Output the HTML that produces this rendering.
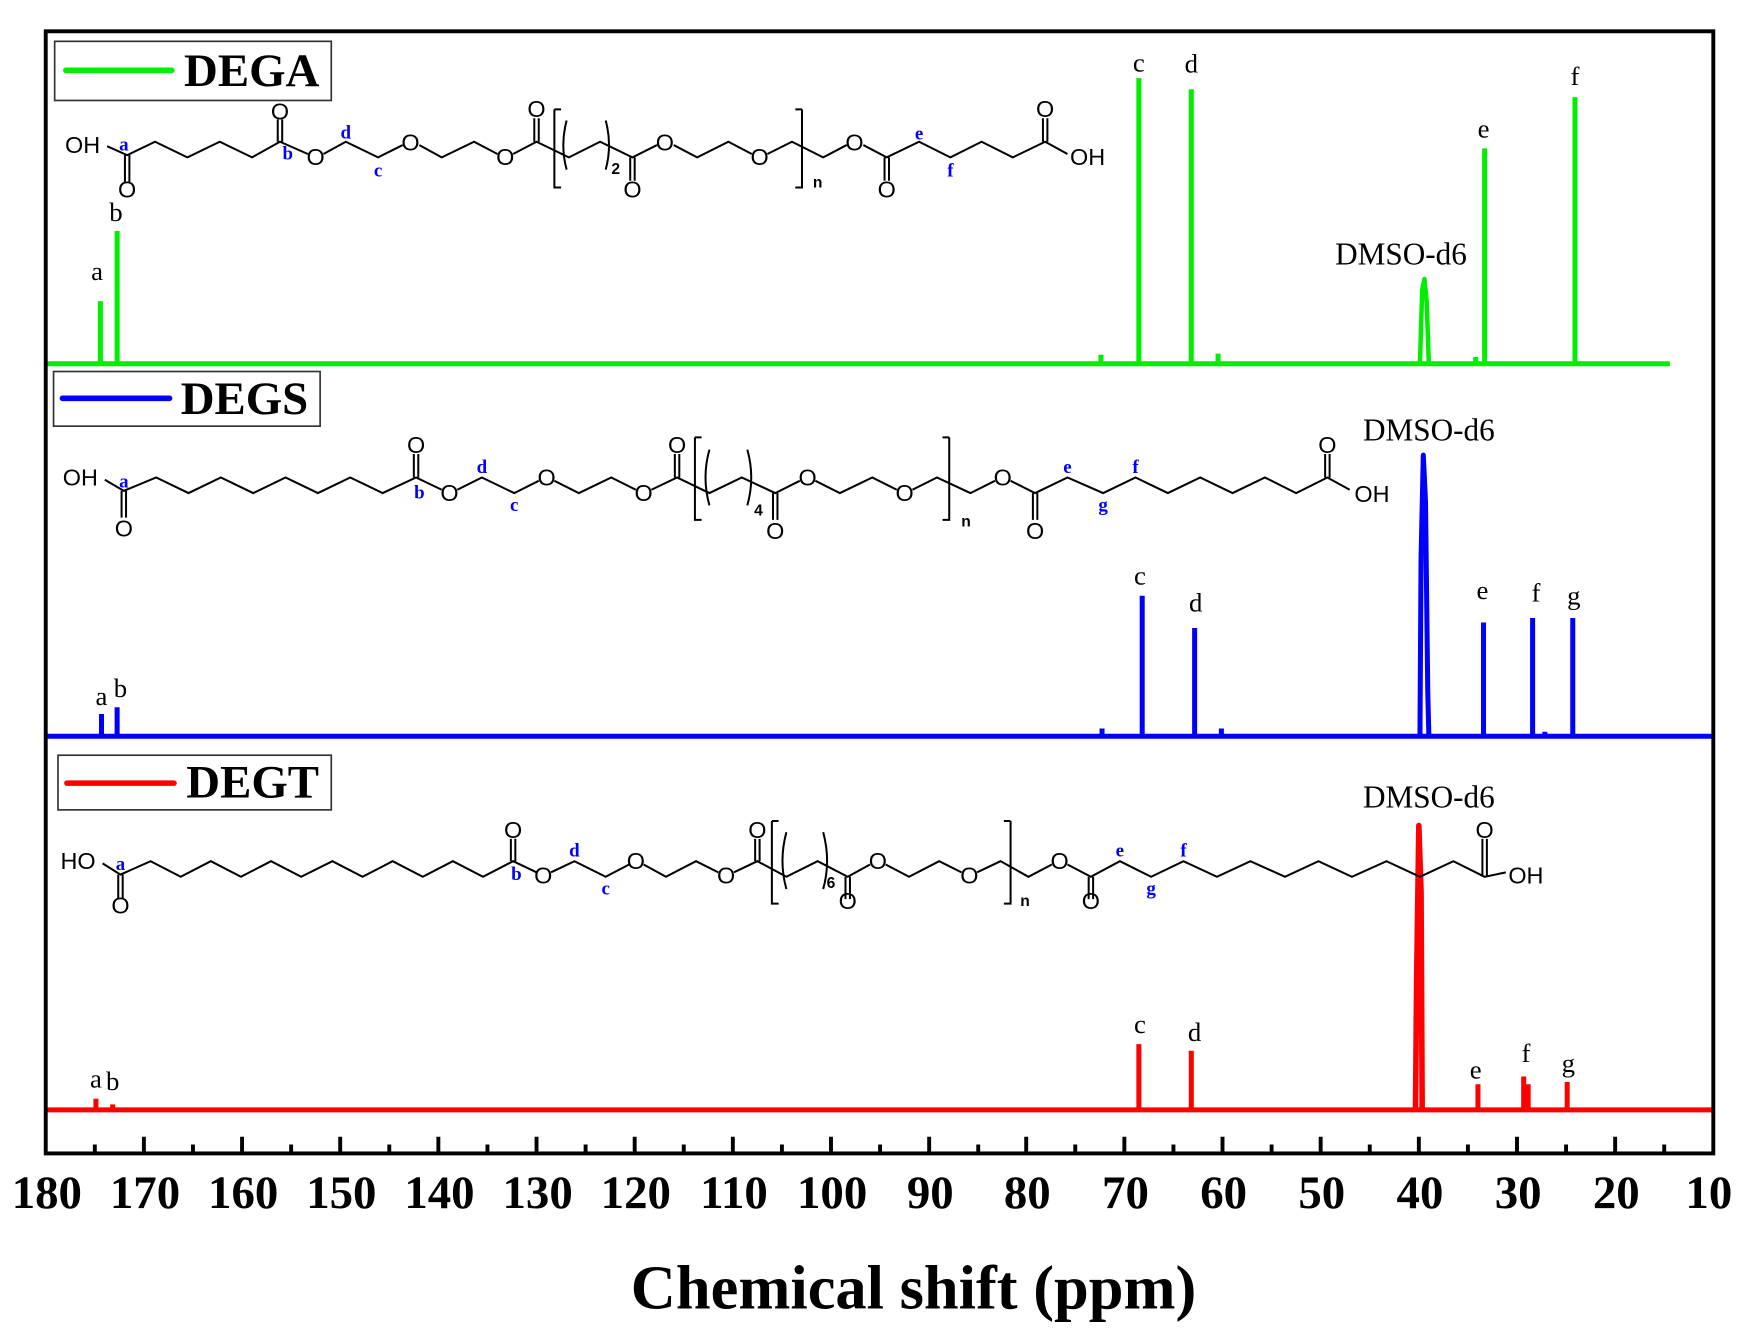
<!DOCTYPE html>
<html><head><meta charset="utf-8"><style>
html,body{margin:0;padding:0;background:#fff}
svg{display:block}
.t{font-family:"Liberation Serif",serif}
.b{font-family:"Liberation Serif",serif;font-weight:bold}
.s{font-family:"Liberation Sans",sans-serif}
.bl{font-family:"Liberation Serif",serif;font-weight:bold;fill:#0000ff;font-size:17px}
</style></head><body>
<svg width="1749" height="1342" viewBox="0 0 1568 1203" xmlns="http://www.w3.org/2000/svg">
<rect width="1568" height="1203" fill="#fff"/>
<g stroke="#000" stroke-width="3.5">
<path d="M129,1034v-15M217,1034v-15M305,1034v-15M393,1034v-15M481,1034v-15M569,1034v-15M657,1034v-15M745,1034v-15M833,1034v-15M920,1034v-15M1008,1034v-15M1096,1034v-15M1184,1034v-15M1272,1034v-15M1360,1034v-15M1448,1034v-15"/>
<path d="M85,1034v-8M173,1034v-8M261,1034v-8M349,1034v-8M437,1034v-8M525,1034v-8M613,1034v-8M701,1034v-8M789,1034v-8M877,1034v-8M964,1034v-8M1052,1034v-8M1140,1034v-8M1228,1034v-8M1316,1034v-8M1404,1034v-8M1492,1034v-8"/>
</g>
<g class="b" font-size="42" text-anchor="middle">
<text x="42" y="1083">180</text><text x="130" y="1083">170</text><text x="218" y="1083">160</text><text x="306" y="1083">150</text><text x="394" y="1083">140</text><text x="482" y="1083">130</text><text x="570" y="1083">120</text><text x="658" y="1083">110</text><text x="746" y="1083">100</text><text x="834" y="1083">90</text><text x="921" y="1083">80</text><text x="1009" y="1083">70</text><text x="1097" y="1083">60</text><text x="1185" y="1083">50</text><text x="1273" y="1083">40</text><text x="1361" y="1083">30</text><text x="1449" y="1083">20</text><text x="1532" y="1083">10</text>
</g>
<text class="b" x="819" y="1173" font-size="56" text-anchor="middle">Chemical shift (ppm)</text>

<g stroke="#00ee00" stroke-width="4.5" fill="none" stroke-linejoin="round">
<path d="M41,326H1497"/>
<path d="M90,326V270M105,326V207M1021,326V70M1068,326V80M987,326V318M1092,326V317M1323,326V320"/>
<path d="M1273,326L1275,260L1277,250L1279,270L1281,326" stroke-width="4"/>
<path d="M1331,326V133M1412,326V87"/>
</g>
<g stroke="#0000ff" stroke-width="4.5" fill="none" stroke-linejoin="round">
<path d="M41,660H1536"/>
<path d="M91,660V640M105,660V634M1024,660V534M1071,660V563M988,660V653M1095,660V653M1385,660V656"/>
<path d="M1273,660L1274,500L1276,408L1278,450L1280,620L1281,660" stroke-width="4.5"/>
<path d="M1330,660V558M1374,660V554M1410,660V554"/>
</g>
<g stroke="#ff0000" stroke-width="4.5" fill="none" stroke-linejoin="round">
<path d="M41,995H1536"/>
<path d="M86,995V985M101,995V990M1021,995V936M1068,995V942"/>
<path d="M1269,995L1270,880L1272,740L1274,800L1275,995" stroke-width="5"/>
<path d="M1325,995V972M1366,995V965M1370,995V972M1405,995V970"/>
</g>

<rect x="41" y="28" width="1495" height="1006" fill="none" stroke="#000" stroke-width="3.5"/>

<g class="t" font-size="24" text-anchor="middle">
<text x="87" y="251">a</text><text x="104" y="198">b</text><text x="1021" y="64">c</text><text x="1068" y="65">d</text><text x="1330" y="123">e</text><text x="1412" y="76">f</text>
<text x="91" y="632">a</text><text x="108" y="625">b</text><text x="1022" y="524">c</text><text x="1072" y="548">d</text><text x="1329" y="537">e</text><text x="1377" y="539">f</text><text x="1411" y="542">g</text>
<text x="86" y="975">a</text><text x="101" y="977">b</text><text x="1022" y="926">c</text><text x="1071" y="933">d</text><text x="1323" y="967">e</text><text x="1368" y="952">f</text><text x="1406" y="961">g</text>
<g font-size="28"><text x="1256" y="237">DMSO-d6</text><text x="1281" y="395">DMSO-d6</text><text x="1281" y="724">DMSO-d6</text></g>
</g>

<rect x="49" y="37" width="248" height="53" fill="#fff" stroke="#333" stroke-width="1.5"/>
<path d="M59,63H154" stroke="#00ee00" stroke-width="5" stroke-linecap="round"/>
<text class="b" x="165" y="77" font-size="42">DEGA</text>
<rect x="48" y="333" width="239" height="49" fill="#fff" stroke="#333" stroke-width="1.5"/>
<path d="M56,357H152" stroke="#0000ff" stroke-width="5" stroke-linecap="round"/>
<text class="b" x="162" y="371" font-size="42">DEGS</text>
<rect x="52" y="677" width="245" height="49" fill="#fff" stroke="#333" stroke-width="1.5"/>
<path d="M60,702H156" stroke="#ff0000" stroke-width="5" stroke-linecap="round"/>
<text class="b" x="167" y="715" font-size="42">DEGT</text>

<g stroke="#000" stroke-width="1.8" fill="none">
<polyline points="96,131 114,139 139,127 168,141 197,127 226,141 251,127 276,138"/>
<polyline points="290,138 310,127 339,141 361,130"/>
<polyline points="376,130 396,141 425,127 446,138"/>
<polyline points="460,138 481,127 510,141 538,127 567,141 589,130"/>
<polyline points="604,130 625,141 653,127 674,138"/>
<polyline points="688,138 710,127 738,141 759,130"/>
<polyline points="774,130 795,141 824,127 852,141 880,127 908,141 937,127 957,138"/>
<path d="M112,139V163M116,139V163M249,127V107M253,127V107M479,127V106M483,127V106M565,141V162M569,141V162M793,141V162M797,141V162M935,127V106M939,127V106"/>
<path d="M719,98V168H713M719,98H713M497,98V168H503M497,98H503"/>
<path d="M508,108Q502,130 508,152M543,108Q549,130 543,152"/>
</g>
<g class="s" font-size="21" text-anchor="middle">
<text x="74" y="137">OH</text><text x="114" y="177">O</text><text x="251" y="107">O</text><text x="283" y="148">O</text><text x="368" y="135">O</text><text x="453" y="148">O</text><text x="481" y="105">O</text><text x="567" y="177">O</text><text x="596" y="135">O</text><text x="681" y="148">O</text><text x="766" y="135">O</text><text x="795" y="177">O</text><text x="937" y="105">O</text><text x="975" y="148">OH</text>
<text x="552" y="156" font-size="14" font-weight="bold">2</text><text x="733" y="168" font-size="14" font-weight="bold">n</text>
</g>
<g class="bl" text-anchor="middle"><text x="111" y="135">a</text><text x="258" y="143">b</text><text x="310" y="124">d</text><text x="339" y="158">c</text><text x="824" y="125">e</text><text x="852" y="158">f</text></g>

<g stroke="#000" stroke-width="1.8" fill="none">
<polyline points="94,430 111,440 140,428 169,442 198,428 227,442 256,428 285,442 314,428 343,442 373,428 396,439"/>
<polyline points="410,439 432,428 461,442 483,431"/>
<polyline points="497,431 519,442 548,428 570,439"/>
<polyline points="584,439 607,428 636,442 665,428 695,442 717,431"/>
<polyline points="731,431 753,442 782,428 804,439"/>
<polyline points="818,439 840,428 870,442 892,431"/>
<polyline points="906,431 928,442 957,428 989,442 1018,428 1047,442 1076,428 1105,442 1134,428 1162,442 1190,428 1210,439"/>
<path d="M109,440V464M113,440V464M371,428V407M375,428V407M605,428V407M609,428V407M693,442V466M697,442V466M926,442V466M930,442V466M1188,428V407M1192,428V407"/>
<path d="M623,392V466H629M623,392H629M851,392V466H845M851,392H845"/>
<path d="M636,403Q629,428 636,453M670,403Q677,428 670,453"/>
</g>
<g class="s" font-size="21" text-anchor="middle">
<text x="72" y="435">OH</text><text x="111" y="481">O</text><text x="373" y="406">O</text><text x="403" y="449">O</text><text x="490" y="435">O</text><text x="577" y="449">O</text><text x="607" y="406">O</text><text x="695" y="483">O</text><text x="724" y="435">O</text><text x="811" y="449">O</text><text x="899" y="435">O</text><text x="928" y="483">O</text><text x="1190" y="406">O</text><text x="1230" y="450">OH</text>
<text x="680" y="462" font-size="14" font-weight="bold">4</text><text x="866" y="472" font-size="14" font-weight="bold">n</text>
</g>
<g class="bl" text-anchor="middle"><text x="111" y="437">a</text><text x="376" y="447">b</text><text x="432" y="424">d</text><text x="461" y="458">c</text><text x="957" y="424">e</text><text x="989" y="458">g</text><text x="1018" y="424">f</text></g>

<g stroke="#000" stroke-width="1.8" fill="none">
<polyline points="92,774 108,784 135,772 162,786 189,772 216,786 243,772 270,786 298,772 325,786 352,772 379,786 406,772 433,786 460,772 481,782"/>
<polyline points="494,782 515,772 543,786 564,775"/>
<polyline points="577,775 597,786 624,772 644,782"/>
<polyline points="658,782 679,772 705,786 733,772 760,786 780,775"/>
<polyline points="794,775 815,786 842,772 862,782"/>
<polyline points="876,782 897,772 922,786 943,775"/>
<polyline points="957,775 978,786 1004,772 1032,786 1061,772 1091,786 1121,772 1152,786 1182,772 1212,786 1243,772 1273,786 1303,772 1331,786 1350,782"/>
<path d="M106,784V806M110,784V806M458,772V752M462,772V752M677,772V752M681,772V752M758,786V806M762,786V806M976,786V806M980,786V806M1329,786V752M1333,786V752"/>
<path d="M692,736V810H698M692,736H698M906,736V810H900M906,736H900"/>
<path d="M705,746Q698,772 705,797M738,746Q745,772 738,797"/>
</g>
<g class="s" font-size="21" text-anchor="middle">
<text x="70" y="779">HO</text><text x="108" y="819">O</text><text x="460" y="751">O</text><text x="487" y="792">O</text><text x="570" y="779">O</text><text x="651" y="792">O</text><text x="679" y="751">O</text><text x="760" y="815">O</text><text x="787" y="779">O</text><text x="869" y="792">O</text><text x="950" y="779">O</text><text x="978" y="815">O</text><text x="1331" y="751">O</text><text x="1368" y="792">OH</text>
<text x="745" y="796" font-size="14" font-weight="bold">6</text><text x="919" y="812" font-size="14" font-weight="bold">n</text>
</g>
<g class="bl" text-anchor="middle"><text x="108" y="780">a</text><text x="463" y="789">b</text><text x="515" y="768">d</text><text x="543" y="802">c</text><text x="1004" y="768">e</text><text x="1032" y="802">g</text><text x="1061" y="768">f</text></g>
</svg>
</body></html>
